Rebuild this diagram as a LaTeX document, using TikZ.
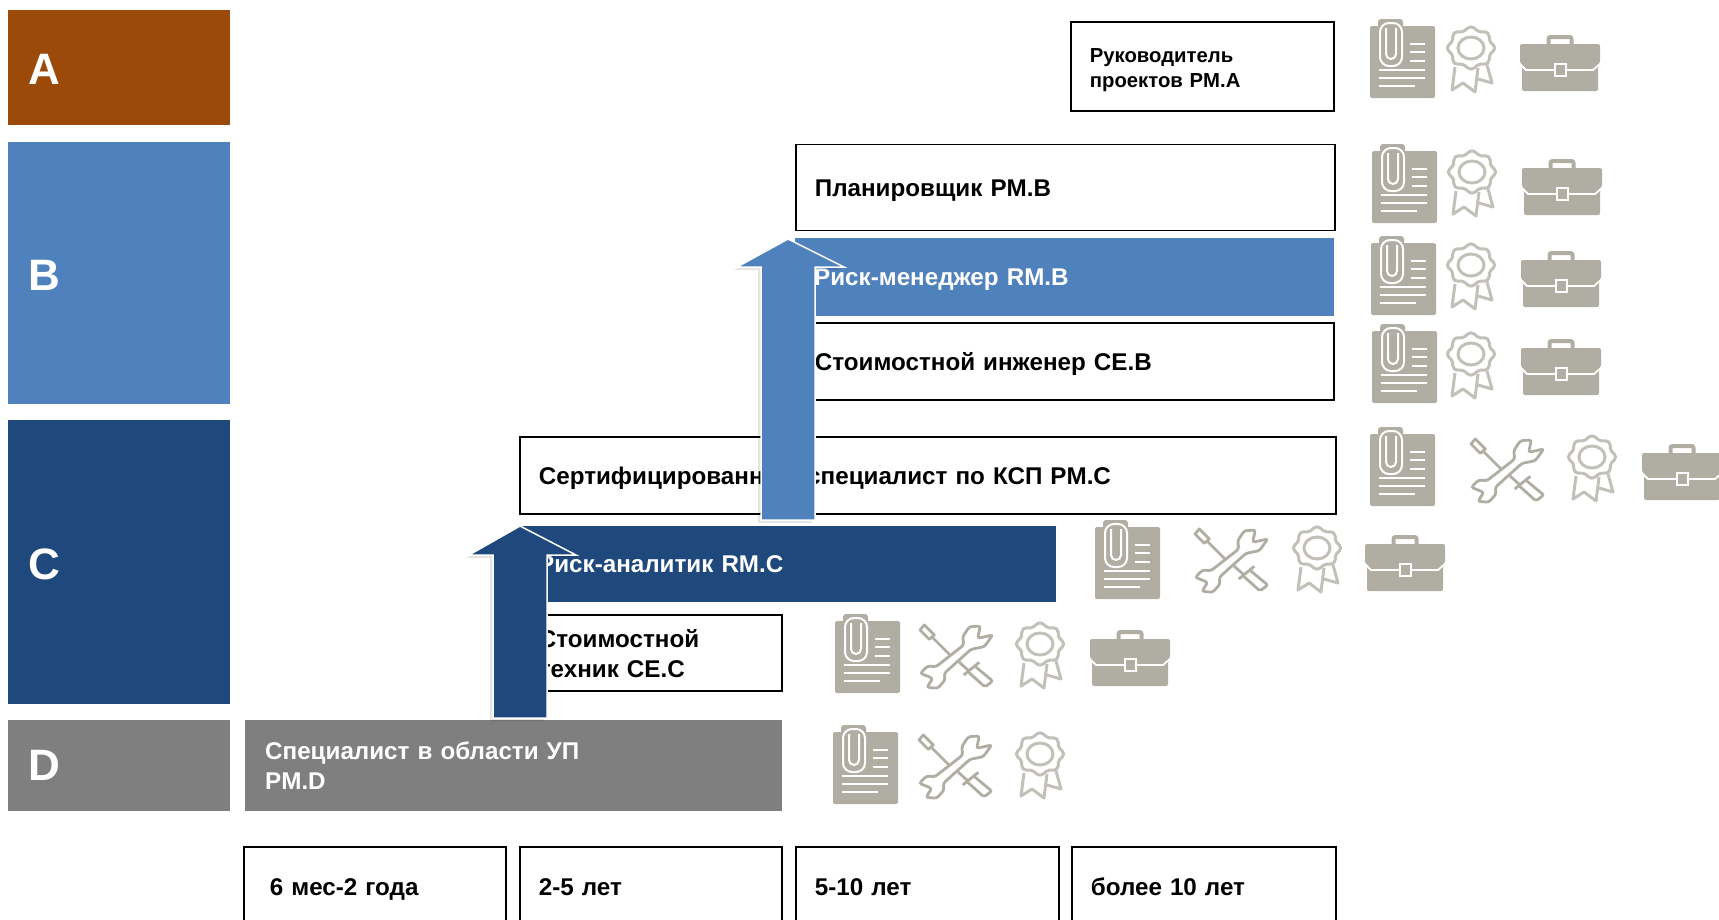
\documentclass[tikz,border=0pt]{standalone}
\usepackage{fontspec}
\setmainfont{Liberation Sans}
\usetikzlibrary{calc,shadows}
\definecolor{levelA}{HTML}{9C4A09}
\definecolor{levelB}{HTML}{4F81BD}
\definecolor{levelC}{HTML}{1F497D}
\definecolor{levelD}{HTML}{7F7F7F}
\definecolor{icongray}{HTML}{B0ADA3}
\definecolor{ribbongray}{HTML}{C2C0B9}
\tikzset{
  band/.style={anchor=north west,inner xsep=19pt,inner ysep=0pt,align=left,text=white,font=\bfseries\fontsize{24.2}{30}\selectfont},
  levelband/.style={band,inner xsep=20pt,font=\bfseries\fontsize{44}{50}\selectfont},
  rolebox/.style={band,draw=black,line width=1.7pt,fill=white,text=black},
  oneline/.style={text height=17.4pt,text depth=0pt},
  upblock/.style={draw=white,line width=1.5pt,line join=miter,drop shadow={shadow xshift=-3pt,shadow yshift=-3pt,opacity=.1,fill=black}},
  pics/docicon/.style={code={
    \fill[icongray,rounded corners=2] (-32,-36) rectangle (33,36);
    \fill[icongray,rounded corners=3] (-24,-43) rectangle (1,-30);
    \draw[white,line width=2pt,rounded corners=9] (-22,-39)--(-22,4)--(0,4)--(0,-39)--cycle;
    \draw[white,line width=2pt,rounded corners=5] (-16,-34)--(-16,-3)--(-6,-3)--(-6,-34);
    \foreach \y in {-18,-10,-1} \draw[white,line width=2.8pt] (7.5,\y)--(22.5,\y);
    \foreach \y in {8,16} \draw[white,line width=2.8pt] (-23.5,\y)--(22.5,\y);
    \draw[white,line width=2.8pt] (-23.5,24)--(12.5,24);
  }},
  pics/rosette/.style={code={
    \draw[ribbongray,line width=3pt,line join=round] (-16,7)--(-19,30)--(-8,23)--(4,32)--(7,8);
    \draw[ribbongray,line width=3pt,line join=round] (16,5)--(21,23)--(7,19);
    \draw[ribbongray,line width=3pt,fill=white] plot[smooth cycle,samples=40,domain=0:351] ({(22+1.6*cos(8*\x))*cos(\x)},{-12+(19.5+1.6*cos(8*\x))*sin(\x)});
    \draw[ribbongray,line width=3pt] (0,-12) ellipse (13 and 11);
  }},
  pics/caseicon/.style={code={
    \draw[icongray,line width=4pt,rounded corners=2] (-11.5,-18)--(-11.5,-26)--(11.5,-26)--(11.5,-18);
    \fill[icongray,rounded corners=2] (-40,-19)--(40,-19)--(40,0)--(38,3)--(38,28)--(-38,28)--(-38,3)--(-40,0)--cycle;
    \draw[white,line width=1.8pt] (-41,0)--(-34,7)--(33,7)--(41,0);
    \draw[white,line width=1.8pt,fill=icongray] (-5,1) rectangle (6,13);
  }},
  pics/toolsicon/.style={code={
    \draw[icongray,line width=2.8pt,line join=round] (-31.7,-31)--(-21.7,-21)--(-26.7,-16.7)--(-36,-26)--cycle;
    \draw[icongray,line width=2.8pt] (-24,-19)--(-4,1);
    \draw[icongray,line width=2.8pt] (3,6)--(13,15);
    \draw[icongray,line width=2.8pt] (7.7,19)--(23.3,6.3);
    \draw[icongray,line width=2.8pt,rounded corners=2] (12,15.7)--(29,31)--(36.7,25)--(19,10.3);
    \draw[icongray,line width=2.8pt,fill=white,rounded corners=2.5] (24.3,-30)--(13.3,-29.3)--(6.7,-19.3)--(7.7,-11)--(-20,10.7)--(-28.3,10)--(-35.7,17.3)--(-23.3,22.3)--(-29,31.3)--(-18.3,32.3)--(-11,24)--(-11.7,17.3)--(15,-6.7)--(28.3,-9.3)--(36.7,-21)--(21.7,-17.7)--cycle;
  }}
}
\begin{document}
\begin{tikzpicture}[x=1pt,y=-1pt]
  \useasboundingbox (0,0) rectangle (1719,919);
  % levels
  \node (bandA) [levelband,text height=34pt,text depth=0pt,fill=levelA,minimum width=222pt,minimum height=115pt,text width=182pt] at (8,10) {A};
  \node (bandB) [levelband,text height=34pt,text depth=0pt,fill=levelB,minimum width=222pt,minimum height=262pt,text width=182pt] at (8,142) {B};
  \node (bandC) [levelband,text height=34pt,text depth=0pt,fill=levelC,minimum width=222pt,minimum height=284pt,text width=182pt] at (8,420) {C};
  \node (bandD) [levelband,fill=levelD,minimum width=222pt,minimum height=91pt,text width=182pt] at (8,720) {D};
  % roles
  \node (pmA) [rolebox,minimum width=263pt,minimum height=89pt,text width=225pt,font=\bfseries\fontsize{20.3}{25.5}\selectfont] at (1070,21) {\rule{0pt}{22pt}Руководитель\\проектов PM.A};
  \node (pmB) [rolebox,oneline,minimum width=539pt,minimum height=86pt,text width=501pt] at (795,143.5) {Планировщик PM.B};
  \node (rmB) [band,oneline,fill=levelB,minimum width=539pt,minimum height=78pt,text width=501pt] at (795,238) {Риск-менеджер RM.B};
  \node (ceB) [rolebox,oneline,minimum width=538pt,minimum height=77pt,text width=500pt] at (795,322) {Стоимостной инженер CE.B};
  \node (pmC) [rolebox,oneline,minimum width=816pt,minimum height=77pt,text width=778pt] at (519,436) {Сертифицированный специалист по КСП PM.C};
  \node (rmC) [band,oneline,fill=levelC,minimum width=537pt,minimum height=76pt,text width=499pt] at (519,526) {Риск-аналитик RM.C};
  \node (ceC) [rolebox,minimum width=262pt,minimum height=76pt,text width=224pt] at (519,614) {\rule{0pt}{20pt}Стоимостной\\техник CE.C};
  \node (pmD) [band,inner xsep=20pt,fill=levelD,minimum width=537pt,minimum height=91pt,text width=497pt] at (245,720) {Специалист в области УП\\PM.D};
  % years
  \node (yearA) [rolebox,oneline,inner xsep=26pt,minimum width=262pt,minimum height=80pt,text width=210pt] at (243,846) {6 мес-2 года};
  \node (yearB) [rolebox,oneline,minimum width=262pt,minimum height=80pt,text width=224pt] at (519,846) {2-5 лет};
  \node (yearC) [rolebox,oneline,minimum width=263pt,minimum height=80pt,text width=225pt] at (795,846) {5-10 лет};
  \node (yearD) [rolebox,oneline,minimum width=264pt,minimum height=80pt,text width=226pt] at (1071,846) {более 10 лет};
  % arrows
  \coordinate (tipC) at (520,526);
  \coordinate (tipB) at (788,239);
  \draw[upblock,fill=levelC] (tipC)--++(-51,29)--++(24,0)--(493,718)--(547,718)--(547,555)--(576,555)--cycle;
  \draw[upblock,fill=levelB] (tipB)--++(-51,28)--++(24,0)--(761,520)--(815,520)--(815,267)--(844,267)--cycle;
  % icons
  \pic at (1402,62) {docicon};
  \pic at (1471,60) {rosette};
  \pic at (1560,63) {caseicon};
  \pic at (1404,187) {docicon};
  \pic at (1472,184) {rosette};
  \pic at (1562,187) {caseicon};
  \pic at (1403,279) {docicon};
  \pic at (1471,277) {rosette};
  \pic at (1561,279) {caseicon};
  \pic at (1404,367) {docicon};
  \pic at (1471,366) {rosette};
  \pic at (1561,367) {caseicon};
  \pic at (1402,470) {docicon};
  \pic at (1507,470) {toolsicon};
  \pic at (1592,469) {rosette};
  \pic at (1682,472) {caseicon};
  \pic at (1127,563) {docicon};
  \pic at (1231,560) {toolsicon};
  \pic at (1317,560) {rosette};
  \pic at (1405,563) {caseicon};
  \pic at (867,657) {docicon};
  \pic at (956,656) {toolsicon};
  \pic at (1040,656) {rosette};
  \pic at (1130,658) {caseicon};
  \pic at (865,768) {docicon};
  \pic at (955,766) {toolsicon};
  \pic at (1040,766) {rosette};
\end{tikzpicture}
\end{document}
